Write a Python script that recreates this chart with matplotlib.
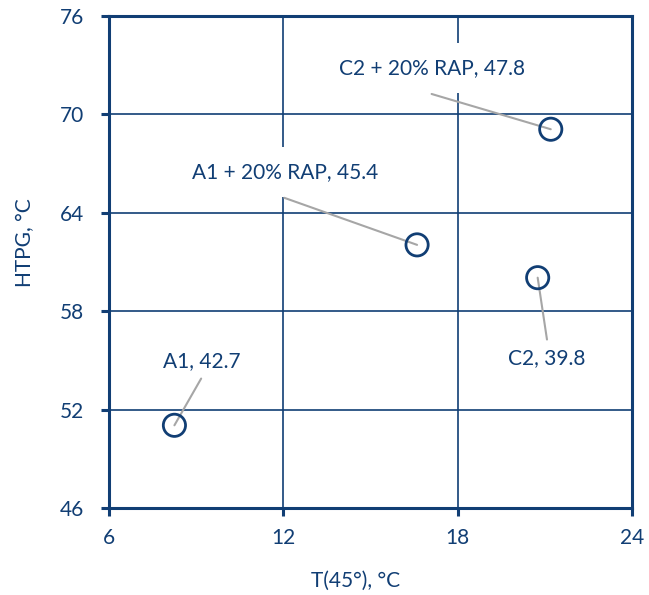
import matplotlib
matplotlib.use("Agg")
import matplotlib.pyplot as plt

# data
names = ["A1", "A1 + 20% RAP", "C2", "C2 + 20% RAP"]
t45 = [8.25, 16.6, 20.75, 21.2]
htpg = [51.05, 62.05, 60.05, 69.1]
label_vals = [42.7, 45.4, 39.8, 47.8]

# label centres and leader start points (data coords)
label_pos = [(9.2, 54.95), (12.05, 66.5), (21.05, 55.15), (17.1, 72.85)]
leader_start = [(9.17, 53.9), (12.03, 64.92), (21.07, 56.28), (17.1, 71.25)]
label_pad = [0.26, 0.72, 0.26, 0.72]

navy = "#113E74"
grey = "#A6A6A6"

plt.rcParams['font.family'] = ['Lato', 'DejaVu Sans']

fig = plt.figure(figsize=(6.49, 5.95), dpi=100)
ax = fig.add_axes([0.168, 0.146, 0.806, 0.827])

ax.set_xlim(6, 24)
ax.set_ylim(46, 76)
ax.set_xticks([6, 12, 18, 24])
ax.set_yticks([46, 52, 58, 64, 70, 76])
ax.grid(True, color=navy, linewidth=1.2, zorder=0)
ax.set_axisbelow(True)

for side in ["left", "bottom", "right", "top"]:
    ax.spines[side].set_color(navy)
    ax.spines[side].set_linewidth(2.2)

ax.tick_params(axis="both", colors=navy, labelsize=15, width=2.2, length=6,
               direction="out", pad=8)
ax.tick_params(axis="y", pad=12)

ax.scatter(t45, htpg, s=16 ** 2, facecolors="none", edgecolors=navy,
           linewidths=2.0, zorder=4)

for i in range(len(names)):
    txt = "%s, %.1f" % (names[i], label_vals[i])
    ax.text(label_pos[i][0], label_pos[i][1], txt, ha="center", va="center",
            fontsize=15, color=navy, zorder=3,
            bbox=dict(boxstyle="square,pad=%s" % label_pad[i], fc="white", ec="none"))
    ax.annotate("", xy=(t45[i], htpg[i]), xytext=leader_start[i], zorder=3.5,
                arrowprops=dict(arrowstyle="-", color=grey, lw=1.5,
                                shrinkA=0, shrinkB=0))

ax.set_xlabel("T(45°), °C", fontsize=15, color=navy)
ax.set_ylabel("HTPG, °C", fontsize=15, color=navy)
ax.xaxis.set_label_coords(0.472, -0.128)
ax.yaxis.set_label_coords(-0.142, 0.54)

fig.savefig("out.png", dpi=100)
